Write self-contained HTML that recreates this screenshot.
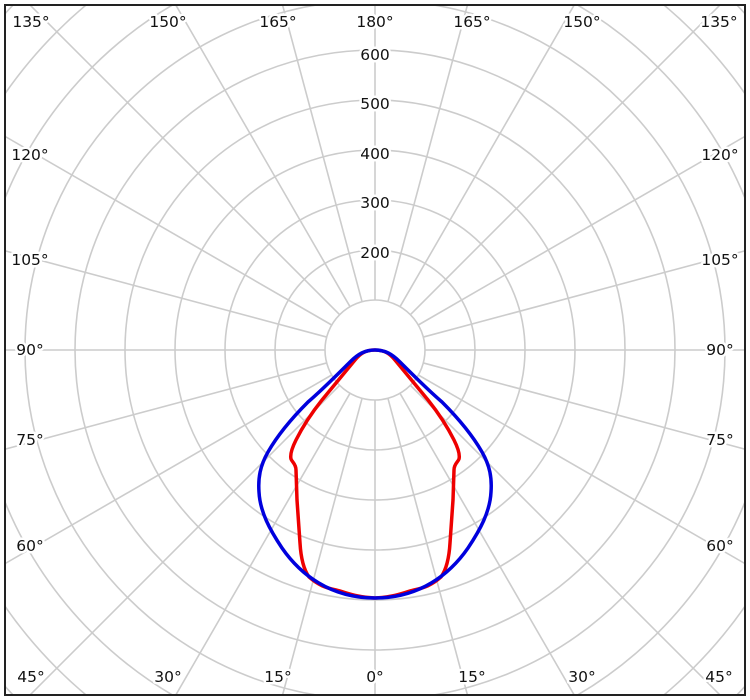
<!DOCTYPE html>
<html><head><meta charset="utf-8"><style>
html,body{margin:0;padding:0;background:#fff;width:750px;height:700px;overflow:hidden;}
svg{display:block;}
text{font-family:"DejaVu Sans","Liberation Sans",sans-serif;font-size:15.5px;fill:#111;paint-order:stroke;stroke:#fff;stroke-width:5px;stroke-linejoin:round;}
</style></head><body>
<svg width="750" height="700" viewBox="0 0 750 700" xmlns="http://www.w3.org/2000/svg">
<defs><clipPath id="c"><rect x="5" y="5" width="740" height="690"/></clipPath></defs>
<rect width="750" height="700" fill="#fff"/>
<g clip-path="url(#c)" stroke="#cccccc" stroke-width="1.6" fill="none">
<circle cx="375" cy="350" r="50"/><circle cx="375" cy="350" r="100"/><circle cx="375" cy="350" r="150"/>
<circle cx="375" cy="350" r="200"/><circle cx="375" cy="350" r="250"/><circle cx="375" cy="350" r="300"/>
<circle cx="375" cy="350" r="350"/><circle cx="375" cy="350" r="400"/><circle cx="375" cy="350" r="450"/>
<circle cx="375" cy="350" r="500"/><circle cx="375" cy="350" r="550"/>
<g id="sp">
<line x1="375" y1="400" x2="375" y2="950" transform="rotate(0 375 350)"/>
<line x1="375" y1="400" x2="375" y2="950" transform="rotate(15 375 350)"/>
<line x1="375" y1="400" x2="375" y2="950" transform="rotate(30 375 350)"/>
<line x1="375" y1="400" x2="375" y2="950" transform="rotate(45 375 350)"/>
<line x1="375" y1="400" x2="375" y2="950" transform="rotate(60 375 350)"/>
<line x1="375" y1="400" x2="375" y2="950" transform="rotate(75 375 350)"/>
<line x1="375" y1="400" x2="375" y2="950" transform="rotate(90 375 350)"/>
<line x1="375" y1="400" x2="375" y2="950" transform="rotate(105 375 350)"/>
<line x1="375" y1="400" x2="375" y2="950" transform="rotate(120 375 350)"/>
<line x1="375" y1="400" x2="375" y2="950" transform="rotate(135 375 350)"/>
<line x1="375" y1="400" x2="375" y2="950" transform="rotate(150 375 350)"/>
<line x1="375" y1="400" x2="375" y2="950" transform="rotate(165 375 350)"/>
</g>
<use href="#sp" transform="rotate(180 375 350)"/>
</g>
<g text-anchor="middle" dominant-baseline="central">
<text x="375" y="253">200</text><text x="375" y="203">300</text><text x="375" y="154">400</text>
<text x="375" y="104">500</text><text x="375" y="55">600</text>
<text x="375" y="677">0°</text><text x="278" y="677">15°</text><text x="472" y="677">15°</text>
<text x="168" y="677">30°</text><text x="582" y="677">30°</text><text x="31" y="677">45°</text><text x="719" y="677">45°</text>
<text x="375" y="22">180°</text><text x="278" y="22">165°</text><text x="472" y="22">165°</text>
<text x="168" y="22">150°</text><text x="582" y="22">150°</text><text x="31" y="22">135°</text><text x="719" y="22">135°</text>
<text x="30" y="350">90°</text><text x="720" y="350">90°</text>
<text x="30" y="440">75°</text><text x="720" y="440">75°</text>
<text x="30" y="546">60°</text><text x="720" y="546">60°</text>
<text x="30" y="260">105°</text><text x="720" y="260">105°</text>
<text x="30" y="155">120°</text><text x="720" y="155">120°</text>
</g>
<path fill="none" stroke="#e00" stroke-width="3.5" stroke-linejoin="round" d="M375,350 C365,350 360,354 355,360 L322,400 C310,415 302,428 296,440 C292,448 290,455 291,459 C292,462 296,464 296,470 L297,500 L300,543 C301,560 304,570 309,577 C318,585 326,588 336,590 C348,593 355,597 375,598 C395,597 402,593 414,590 C424,588 432,585 441,577 C446,570 449,560 450,543 L453,500 L454,470 C454,464 458,462 459,459 C460,455 458,448 454,440 C448,428 440,415 428,400 L395,360 C390,354 385,350 375,350 Z"/>
<path fill="none" stroke="#00d" stroke-width="3.5" stroke-linejoin="round" d="M375,350 C365,350 358,354 350,362 C338,374 322,390 308,402 C290,420 276,438 268,452 C260,466 258,478 259,492 C260,512 270,530 282,548 C300,574 330,598 375,598 C420,598 450,574 468,548 C480,530 490,512 491,492 C492,478 490,466 482,452 C474,438 460,420 442,402 C428,390 412,374 400,362 C392,354 385,350 375,350 Z"/>
<rect x="5" y="5" width="740" height="690" fill="none" stroke="#222" stroke-width="2"/>
</svg>
</body></html>
